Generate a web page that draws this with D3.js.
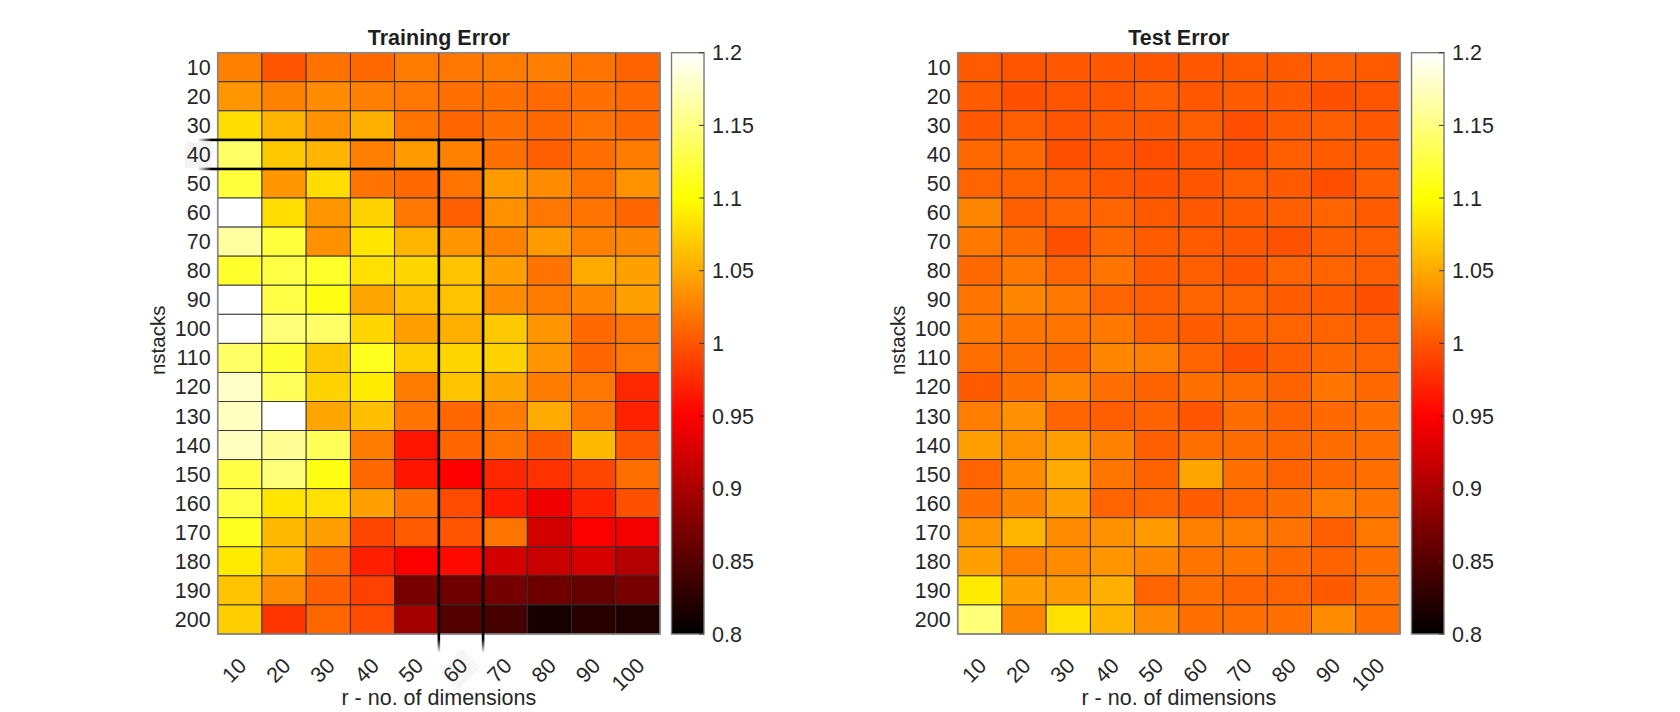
<!DOCTYPE html>
<html>
<head>
<meta charset="utf-8">
<script src="https://cdn.jsdelivr.net/npm/d3@7"></script>
<style>
  html, body { margin: 0; padding: 0; background: #fff; }
  svg { display: block; }
  text { font-family: "Liberation Sans", Arial, Helvetica, sans-serif; fill: #262626; }
</style>
</head>
<body>
<svg id="chart" width="1680" height="712"></svg>
<script>
// ---------------- data ----------------
const dims = ["10","20","30","40","50","60","70","80","90","100"];          // r - no. of dimensions
const nstacks = ["10","20","30","40","50","60","70","80","90","100",
                 "110","120","130","140","150","160","170","180","190","200"];
const cbTicks = [0.8, 0.85, 0.9, 0.95, 1, 1.05, 1.1, 1.15, 1.2];
const cbTickLabels = ["0.8","0.85","0.9","0.95","1","1.05","1.1","1.15","1.2"];
const colorLimits = [0.8, 1.2];

const trainError = [
  [1.025, 1.000, 1.017, 1.012, 1.022, 1.020, 1.022, 1.024, 1.018, 1.008],
  [1.038, 1.026, 1.032, 1.025, 1.020, 1.015, 1.016, 1.013, 1.016, 1.012],
  [1.080, 1.056, 1.035, 1.053, 1.018, 1.010, 1.016, 1.012, 1.018, 1.012],
  [1.140, 1.068, 1.056, 1.025, 1.041, 1.026, 1.016, 1.006, 1.015, 1.023],
  [1.123, 1.038, 1.080, 1.018, 1.012, 1.018, 1.041, 1.032, 1.018, 1.035],
  [1.205, 1.080, 1.038, 1.074, 1.020, 1.006, 1.035, 1.020, 1.018, 1.010],
  [1.163, 1.123, 1.035, 1.085, 1.056, 1.038, 1.026, 1.041, 1.026, 1.029],
  [1.118, 1.127, 1.116, 1.082, 1.076, 1.065, 1.044, 1.018, 1.050, 1.044],
  [1.210, 1.127, 1.108, 1.047, 1.062, 1.065, 1.032, 1.023, 1.029, 1.044],
  [1.215, 1.147, 1.140, 1.076, 1.044, 1.053, 1.068, 1.038, 1.012, 1.018],
  [1.140, 1.120, 1.068, 1.112, 1.071, 1.076, 1.074, 1.038, 1.010, 1.020],
  [1.178, 1.135, 1.074, 1.088, 1.023, 1.065, 1.047, 1.023, 1.020, 0.973],
  [1.175, 1.208, 1.047, 1.062, 1.018, 1.010, 1.023, 1.050, 1.018, 0.970],
  [1.175, 1.159, 1.135, 1.023, 0.962, 1.010, 1.018, 1.003, 1.059, 1.000],
  [1.127, 1.147, 1.108, 1.012, 0.962, 0.950, 0.973, 0.979, 0.991, 1.015],
  [1.127, 1.085, 1.082, 1.044, 1.015, 0.994, 0.965, 0.941, 0.970, 0.997],
  [1.112, 1.059, 1.044, 0.991, 1.003, 1.000, 1.018, 0.924, 0.948, 0.944],
  [1.088, 1.056, 1.015, 0.968, 0.948, 0.956, 0.924, 0.918, 0.926, 0.906],
  [1.065, 1.032, 1.006, 0.988, 0.871, 0.865, 0.868, 0.865, 0.859, 0.871],
  [1.071, 0.982, 1.010, 0.994, 0.897, 0.850, 0.841, 0.815, 0.824, 0.818]
];

const testError = [
  [1.003, 1.000, 1.002, 1.002, 1.000, 1.002, 1.003, 1.003, 1.006, 1.003],
  [1.004, 0.997, 1.000, 1.002, 1.006, 1.002, 1.004, 1.003, 0.997, 1.000],
  [1.002, 1.006, 1.000, 1.004, 1.003, 1.006, 0.996, 1.004, 1.006, 1.002],
  [1.012, 1.012, 0.997, 1.000, 0.996, 1.000, 0.996, 1.006, 1.004, 1.004],
  [1.009, 1.008, 1.006, 1.002, 0.998, 1.000, 1.006, 1.003, 0.996, 1.006],
  [1.029, 1.006, 1.009, 1.009, 1.003, 1.002, 1.004, 1.006, 1.009, 1.004],
  [1.021, 1.014, 0.997, 1.012, 1.004, 1.003, 1.002, 0.998, 1.006, 1.006],
  [1.012, 1.021, 1.009, 1.018, 1.004, 1.006, 1.000, 1.009, 1.009, 1.006],
  [1.019, 1.029, 1.021, 1.009, 1.006, 1.009, 1.009, 1.004, 1.004, 0.997],
  [1.021, 1.019, 1.019, 1.021, 1.008, 1.004, 1.008, 1.009, 1.009, 1.006],
  [1.015, 1.015, 1.012, 1.029, 1.025, 1.009, 0.998, 1.006, 1.012, 1.009],
  [1.003, 1.016, 1.029, 1.015, 1.008, 1.016, 1.014, 1.008, 1.019, 1.012],
  [1.024, 1.035, 1.009, 1.006, 1.008, 1.000, 1.014, 1.008, 1.012, 1.016],
  [1.044, 1.035, 1.044, 1.026, 1.006, 1.015, 1.014, 1.012, 1.014, 1.016],
  [1.009, 1.032, 1.050, 1.019, 1.008, 1.047, 1.016, 1.008, 1.012, 1.016],
  [1.016, 1.026, 1.044, 1.009, 1.009, 1.004, 1.009, 1.014, 1.024, 1.019],
  [1.038, 1.056, 1.032, 1.035, 1.041, 1.025, 1.024, 1.018, 1.006, 1.021],
  [1.044, 1.024, 1.032, 1.038, 1.029, 1.018, 1.019, 1.012, 1.008, 1.016],
  [1.088, 1.044, 1.041, 1.053, 1.009, 1.015, 1.009, 1.009, 1.003, 1.015],
  [1.147, 1.029, 1.082, 1.056, 1.032, 1.016, 1.015, 1.016, 1.032, 1.016]
];

// highlighted row / column on the training panel
const highlightRow = "40";
const highlightCol = "60";

// ---------------- layout ----------------
const svg = d3.select("#chart");
const plotTop = 52.7, plotH = 581.3, plotW = 442.3;
const panelX = [217.7, 957.7];
const cbGap = 11.5, cbW = 32.5;
const tickFont = "21.5px", labelFont = "21.5px";

// MATLAB "hot" colormap (black -> red -> yellow -> white)
const hot = d3.scaleLinear()
  .domain([colorLimits[0], colorLimits[0] + 0.375 * (colorLimits[1] - colorLimits[0]),
           colorLimits[0] + 0.75 * (colorLimits[1] - colorLimits[0]), colorLimits[1]])
  .range(["#000000", "#ff0000", "#ffff00", "#ffffff"])
  .clamp(true);

const defs = svg.append("defs");
const grad = defs.append("linearGradient").attr("id", "hotgrad")
  .attr("x1", 0).attr("y1", 1).attr("x2", 0).attr("y2", 0);
hot.domain().forEach(v => {
  grad.append("stop")
    .attr("offset", (v - colorLimits[0]) / (colorLimits[1] - colorLimits[0]))
    .attr("stop-color", hot(v));
});
const fadeH = defs.append("linearGradient").attr("id", "fadeH")
  .attr("gradientUnits", "userSpaceOnUse");
const fadeV = defs.append("linearGradient").attr("id", "fadeV")
  .attr("gradientUnits", "userSpaceOnUse");

function drawPanel(x0, title, matrix, highlight) {
  const g = svg.append("g");
  const x = d3.scaleBand().domain(dims).range([x0, x0 + plotW]);
  const y = d3.scaleBand().domain(nstacks).range([plotTop, plotTop + plotH]);

  const cells = [];
  matrix.forEach((row, i) => row.forEach((v, j) => cells.push({ r: nstacks[i], c: dims[j], v })));

  g.append("g").selectAll("rect").data(cells).join("rect")
    .attr("x", d => x(d.c)).attr("y", d => y(d.r))
    .attr("width", x.bandwidth()).attr("height", y.bandwidth())
    .attr("fill", d => hot(d.v))
    .attr("stroke", "#2e2e2e").attr("stroke-width", 0.9);

  // axes box
  g.append("rect").attr("x", x0).attr("y", plotTop).attr("width", plotW).attr("height", plotH)
    .attr("fill", "none").attr("stroke", "#8a8a8a").attr("stroke-width", 1.6);

  // highlight label backgrounds
  if (highlight) {
    g.append("rect")
      .attr("x", x0 - 33).attr("y", y(highlightRow) + 2)
      .attr("width", 27).attr("height", y.bandwidth() - 3)
      .attr("fill", "#f4f4f4");
    const cx = x(highlightCol) + x.bandwidth() / 2;
    g.append("rect")
      .attr("transform", `translate(${cx - 1},${plotTop + plotH + 35}) rotate(-45)`)
      .attr("x", -17).attr("y", -13).attr("width", 33).attr("height", 26)
      .attr("fill", "#f6f6f6");
  }

  // y tick labels
  g.append("g").selectAll("text").data(nstacks).join("text")
    .attr("x", x0 - 7).attr("y", d => y(d) + y.bandwidth() / 2)
    .attr("dy", "0.35em").attr("text-anchor", "end")
    .style("font-size", tickFont).text(d => d);

  // x tick labels (rotated 45°)
  g.append("g").selectAll("text").data(dims).join("text")
    .attr("transform", d => `translate(${x(d) + x.bandwidth() / 2 + 8},${plotTop + plotH + 33}) rotate(-45)`)
    .attr("text-anchor", "end")
    .style("font-size", tickFont).text(d => d);

  // title & axis labels
  g.append("text").attr("x", x0 + plotW / 2).attr("y", 45)
    .attr("text-anchor", "middle").style("font-size", labelFont).style("font-weight", "bold")
    .style("fill", "#1f1f1f").text(title);
  g.append("text").attr("x", x0 + plotW / 2).attr("y", 705)
    .attr("text-anchor", "middle").style("font-size", labelFont).text("r - no. of dimensions");
  g.append("text")
    .attr("transform", `translate(${x0 - 53},${plotTop + plotH / 2 - 3}) rotate(-90)`)
    .attr("text-anchor", "middle").style("font-size", "20.5px").text("nstacks");

  // colorbar
  const cbx = x0 + plotW + cbGap;
  const cy = d3.scaleLinear().domain(colorLimits).range([plotTop + plotH, plotTop]);
  g.append("rect").attr("x", cbx).attr("y", plotTop).attr("width", cbW).attr("height", plotH)
    .attr("fill", "url(#hotgrad)").attr("stroke", "#7a7a7a").attr("stroke-width", 1.4);
  g.append("g").selectAll("line").data(cbTicks).join("line")
    .attr("x1", cbx + cbW - 5).attr("x2", cbx + cbW)
    .attr("y1", d => cy(d)).attr("y2", d => cy(d))
    .attr("stroke", "#333").attr("stroke-width", 1);
  g.append("g").selectAll("text").data(cbTicks).join("text")
    .attr("x", cbx + cbW + 8).attr("y", d => cy(d)).attr("dy", "0.35em")
    .style("font-size", tickFont).text((d, i) => cbTickLabels[i]);

  // highlight lines (training panel)
  if (highlight) {
    const yTop = y(highlightRow), yBot = y(highlightRow) + y.bandwidth();
    const xL = x(highlightCol), xR = x(highlightCol) + x.bandwidth();
    const startX = x0 - 20, bottomY = plotTop + plotH + 19;
    fadeH.attr("x1", startX).attr("y1", 0).attr("x2", x0 - 6).attr("y2", 0);
    fadeH.append("stop").attr("offset", 0).attr("stop-color", "#000").attr("stop-opacity", 0);
    fadeH.append("stop").attr("offset", 1).attr("stop-color", "#000").attr("stop-opacity", 1);
    fadeV.attr("x1", 0).attr("y1", plotTop + plotH + 5).attr("x2", 0).attr("y2", bottomY);
    fadeV.append("stop").attr("offset", 0).attr("stop-color", "#000").attr("stop-opacity", 1);
    fadeV.append("stop").attr("offset", 1).attr("stop-color", "#000").attr("stop-opacity", 0);

    [yTop, yBot].forEach(yy => {
      g.append("rect").attr("x", startX).attr("y", yy - 1.3)
        .attr("width", xR - startX + 1.3).attr("height", 2.6).attr("fill", "url(#fadeH)");
    });
    [xL, xR].forEach(xx => {
      g.append("rect").attr("x", xx - 1.3).attr("y", yTop - 1.3)
        .attr("width", 2.6).attr("height", bottomY - yTop + 1.3).attr("fill", "url(#fadeV)");
    });
  }
}

drawPanel(panelX[0], "Training Error", trainError, true);
drawPanel(panelX[1], "Test Error", testError, false);
</script>
</body>
</html>
